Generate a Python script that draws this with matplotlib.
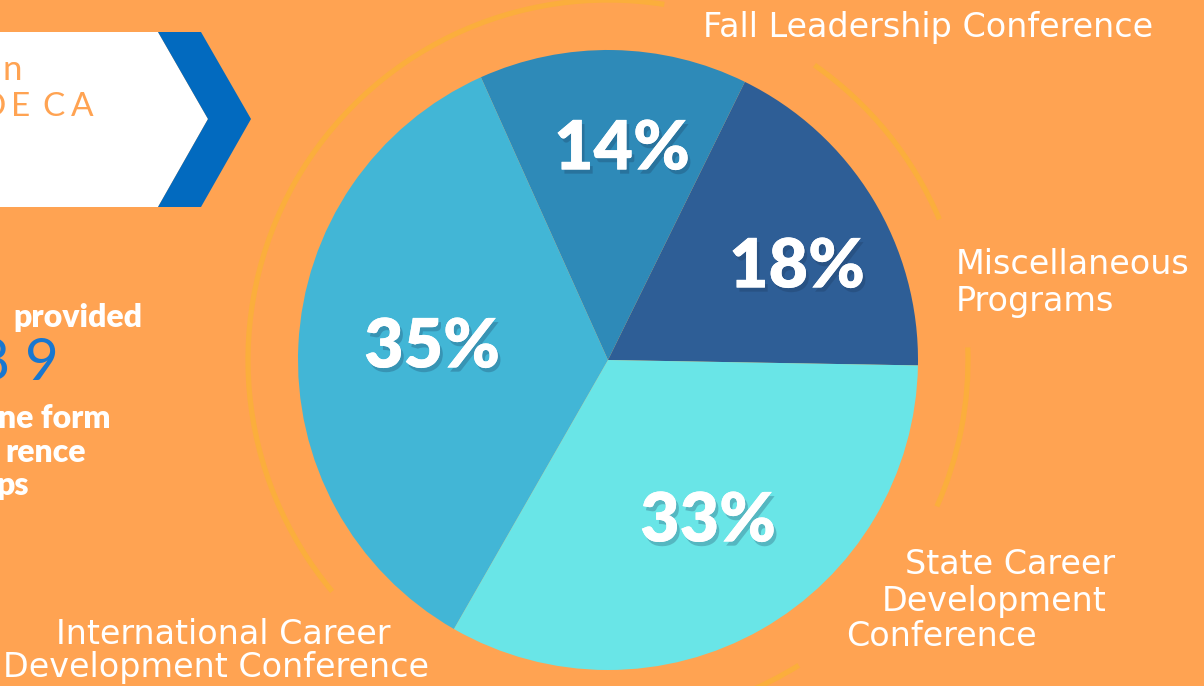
import numpy as np
import matplotlib
matplotlib.use("Agg")
import matplotlib.pyplot as plt
from matplotlib.patches import Arc, Polygon
import matplotlib.patheffects as pe

W, H = 1204, 686
BG = "#FFA352"

# chart data
categories = ["Miscellaneous\nPrograms", "Fall Leadership Conference",
              "International Career\nDevelopment Conference",
              "State Career\nDevelopment\nConference"]
shares = [18, 14, 35, 33]
slice_colors = ["#2E5E96", "#2E8AB8", "#42B6D6", "#69E5E7"]
pct_labels = ["18%", "14%", "35%", "33%"]

# positions in pixel coords (y from top)
pct_pos = [(797, 268), (622, 150), (432, 348), (708, 522)]
cat_lines = [
    [(956, 264, "left"), (956, 301, "left")],
    [(703, 27, "left")],
    [(223, 634, "center"), (216, 668, "center")],
    [(905, 565, "left"), (882, 601, "left"), (846, 636, "left")],
]

CX, CY, R = 608, 360, 310
ARC_R = 360
arc_spans = [(81, 220), (23, 55), (-24, 2), (-100, -58)]


def fy(py):
    return H - py


fig = plt.figure(figsize=(W / 100, H / 100), dpi=100, facecolor=BG)
ax = fig.add_axes([0, 0, 1, 1])
ax.set_facecolor(BG)

ax.pie(shares, colors=slice_colors, startangle=-1, counterclock=True,
       center=(CX, fy(CY)), radius=R, wedgeprops=dict(linewidth=0))

for t1, t2 in arc_spans:
    ax.add_patch(Arc((CX, fy(CY)), 2 * ARC_R, 2 * ARC_R, theta1=t1, theta2=t2,
                     color="#FBAE3C", lw=3.8, capstyle="butt"))

shadow = [pe.withSimplePatchShadow(offset=(2, -3), shadow_rgbFace="#1a3050", alpha=0.25),
          pe.Normal()]
for lab, (px, py) in zip(pct_labels, pct_pos):
    ax.text(px, fy(py), lab, color="white", fontsize=49, fontweight="heavy",
            family="Lato", ha="center", va="center", path_effects=shadow)

for cat, lines in zip(categories, cat_lines):
    for txt, (px, py, ha) in zip(cat.split("\n"), lines):
        ax.text(px, fy(py), txt, color="white", fontsize=24, family="DejaVu Sans",
                ha=ha, va="center")

# left banner with chevron
white_poly = [(0, 32), (158, 32), (208, 119), (158, 207), (0, 207)]
blue_poly = [(158, 32), (201, 32), (251, 119), (201, 207), (158, 207), (208, 119)]
ax.add_patch(Polygon([(x, fy(y)) for x, y in white_poly], closed=True,
                     facecolor="white", edgecolor="none"))
ax.add_patch(Polygon([(x, fy(y)) for x, y in blue_poly], closed=True,
                     facecolor="#026ABF", edgecolor="none"))
ax.text(22, fy(70), "n", color=BG, fontsize=25, family="Lato",
        ha="right", va="center")
for ch, x in zip("DECA", [-6, 21, 53, 82]):
    ax.text(x, fy(107), ch, color=BG, fontsize=24, family="Lato",
            ha="center", va="center")

# left side text fragments
ax.text(142, fy(318), "provided", color="white", fontsize=23, fontweight="heavy",
        family="Lato", ha="right", va="center")
ax.text(59, fy(364), "8 9", color="#1877D0", fontsize=42, family="Lato",
        ha="right", va="center")
for txt, x, y in [("ne form", 110, 418), ("rence", 86, 452), ("ps", 29, 486)]:
    ax.text(x, fy(y), txt, color="white", fontsize=23, fontweight="heavy",
            family="Lato", ha="right", va="center")

ax.set_xlim(0, W)
ax.set_ylim(0, H)
ax.set_aspect("auto")
ax.axis("off")

fig.savefig("out.png", dpi=100, facecolor=BG)
